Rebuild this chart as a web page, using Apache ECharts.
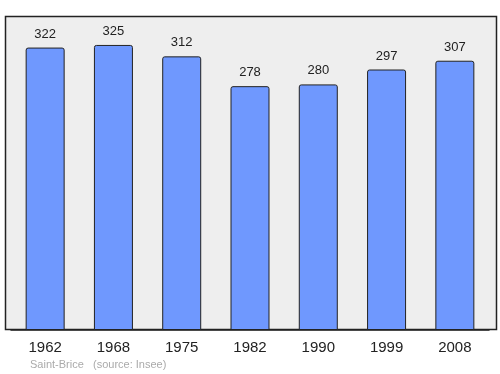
<!DOCTYPE html>
<html><head><meta charset="utf-8">
<script src="https://cdn.jsdelivr.net/npm/echarts@6/dist/echarts.min.js"></script>
<style>html,body{margin:0;padding:0;background:#fff}#c{width:500px;height:374px}</style>
</head><body><div id="c"></div>
<script>
var years = ['1962','1968','1975','1982','1990','1999','2008'];
var population = [322,325,312,278,280,297,307];
var place = 'Saint-Brice';
var source = '(source: Insee)';

var chart = echarts.init(document.getElementById('c'), null, {renderer:'canvas'});
chart.setOption({
  animation:false,
  textStyle:{fontFamily:'Liberation Sans, Arial, sans-serif'},
  graphic:[
    {type:'rect', z:-10, shape:{x:5.5,y:16.5,width:491,height:313}, style:{fill:'#eeeeee', stroke:'#222', lineWidth:1.5}},
    {type:'text', left:30, top:359, style:{text:place, fill:'#aaaaaa', fontSize:11, fontFamily:'Liberation Sans, Arial, sans-serif'}},
    {type:'text', left:93, top:359, style:{text:source, fill:'#aaaaaa', fontSize:11, fontFamily:'Liberation Sans, Arial, sans-serif'}}
  ],
  grid:{left:11, width:478, top:16, height:314},
  xAxis:{type:'category', data:years, axisLine:{show:true, lineStyle:{color:'#222', width:1.5}}, axisTick:{show:false},
    axisLabel:{color:'#222', fontSize:15, margin:10}},
  yAxis:{type:'value', min:0, max:358, show:false, splitLine:{show:false}},
  series:[{type:'bar', data:population, barWidth:39,
    itemStyle:{color:'#6f98fe', borderColor:'#222', borderWidth:1, borderRadius:[2,2,0,0]},
    label:{show:true, position:'top', distance:7, color:'#222', fontSize:13}}]
});
</script></body></html>
